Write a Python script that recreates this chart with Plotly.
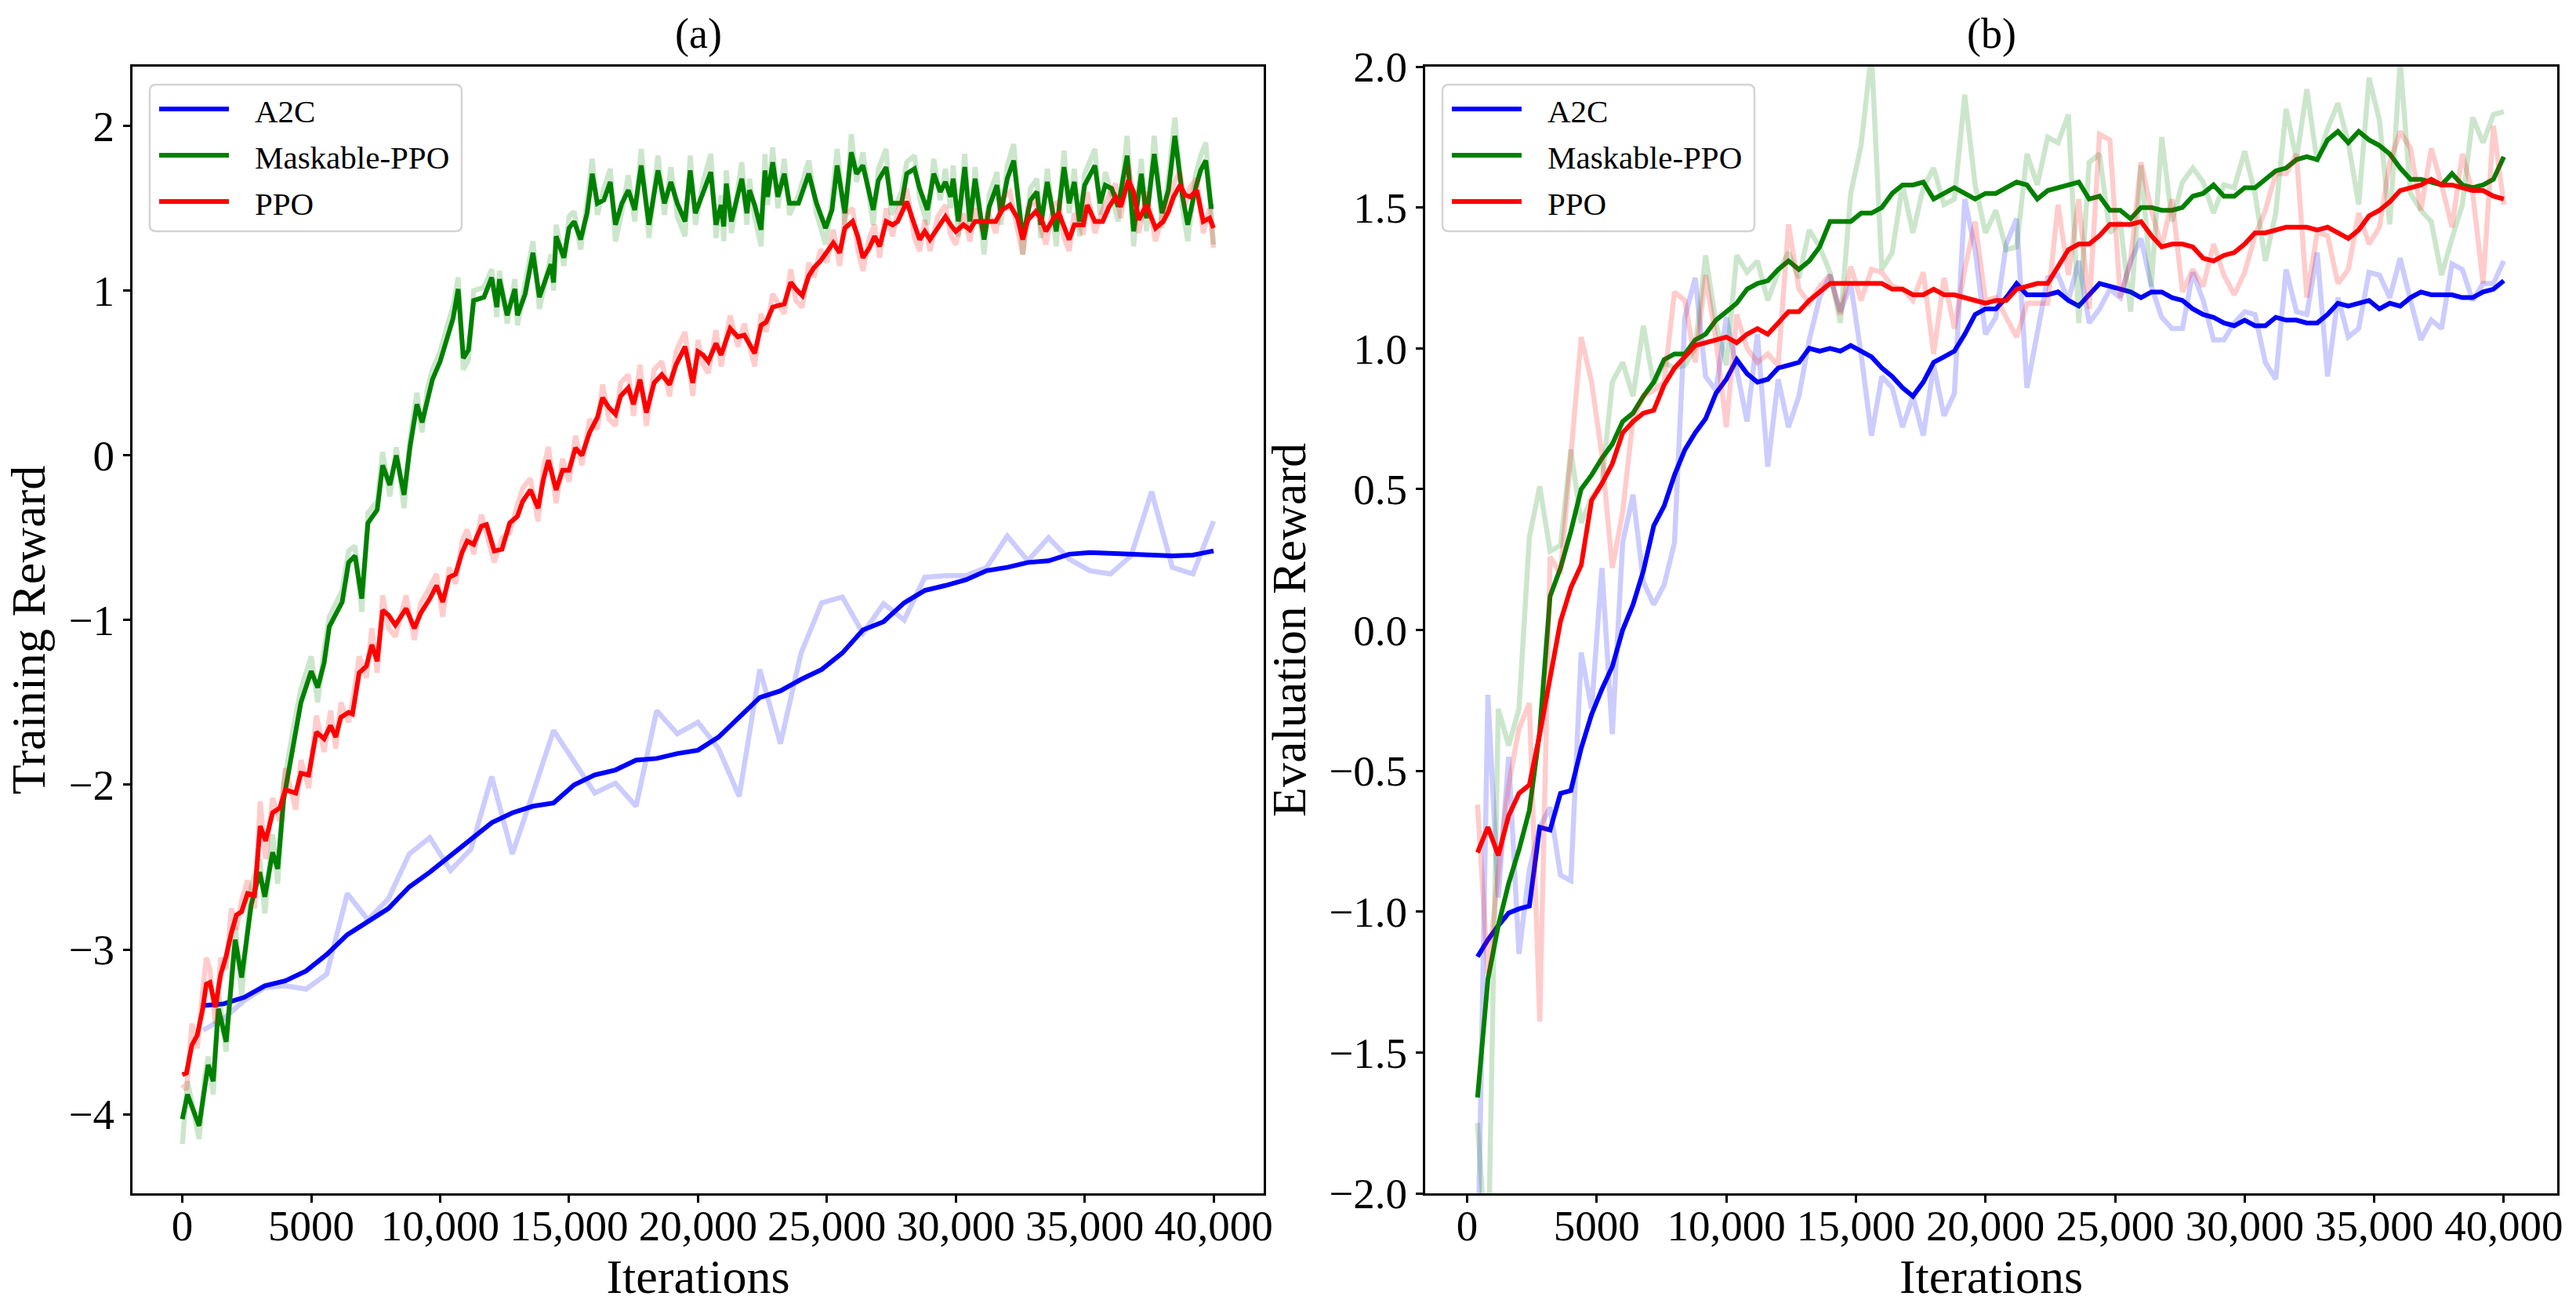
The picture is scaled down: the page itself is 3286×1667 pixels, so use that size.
import plotly.graph_objects as go

# ---------------- data: (a) training reward ----------------
# A2C logged every 800 iterations
a2c_train_x = list(range(800, 40001, 800))
a2c_train_raw = [-3.49, -3.42, -3.31, -3.23, -3.22, -3.24, -3.15, -2.66, -2.82, -2.69,
                 -2.42, -2.32, -2.52, -2.39, -1.95, -2.42, -2.05, -1.67, -1.86, -2.05,
                 -1.99, -2.13, -1.55, -1.69, -1.62, -1.78, -2.07, -1.30, -1.75, -1.20,
                 -0.895, -0.86, -1.08, -0.90, -1.00, -0.74, -0.73, -0.73, -0.68, -0.49,
                 -0.64, -0.50, -0.63, -0.70, -0.72, -0.61, -0.22, -0.68, -0.72, -0.40]
a2c_train_smooth = [-3.34, -3.33, -3.29, -3.22, -3.19, -3.13, -3.03, -2.91, -2.83, -2.75,
                    -2.62, -2.53, -2.43, -2.33, -2.23, -2.17, -2.13, -2.11, -2.00, -1.94,
                    -1.91, -1.85, -1.84, -1.81, -1.79, -1.71, -1.59, -1.47, -1.43, -1.36,
                    -1.30, -1.20, -1.06, -1.01, -0.895, -0.82, -0.79, -0.755, -0.70, -0.68,
                    -0.65, -0.64, -0.60, -0.59, -0.595, -0.60, -0.60, -0.61, -0.605, -0.58]

# Maskable-PPO (iterations in thousands)
mppo_train_k = [0.0, 0.2, 0.65, 0.86, 1.0, 1.2, 1.4, 1.7, 2.05, 2.3, 2.67, 3.0, 3.2, 3.5, 3.7,
                3.93, 4.35, 4.6, 5.0, 5.25, 5.5, 5.7, 6.2, 6.45, 6.7, 6.96, 7.2, 7.56, 7.77,
                8.05, 8.3, 8.6, 8.83, 9.1, 9.3, 9.5, 9.7, 10.0, 10.3, 10.5, 10.7, 10.9, 11.1,
                11.3, 11.7, 12.0, 12.2, 12.3, 12.6, 12.9, 13.0, 13.3, 13.6, 13.85, 14.3, 14.4,
                14.5, 14.8, 15.0, 15.2, 15.45, 15.7, 15.9, 16.1, 16.35, 16.6, 16.8, 17.05,
                17.3, 17.55, 17.8, 18.1, 18.45, 18.7, 18.95, 19.2, 19.5, 19.7, 19.9, 20.2,
                20.5, 20.7, 20.9, 21.0, 21.1, 21.3, 21.7, 21.9, 22.0, 22.2, 22.45, 22.6, 22.7,
                22.9, 23.1, 23.35, 23.55, 23.9, 24.3, 24.6, 24.95, 25.2, 25.4, 25.7, 25.95,
                26.15, 26.4, 26.8, 27.0, 27.3, 27.5, 27.9, 28.1, 28.4, 28.6, 28.9, 29.15,
                29.4, 29.6, 29.8, 29.9, 30.1, 30.35, 30.55, 30.75, 31.1, 31.3, 31.6, 31.75,
                32.0, 32.25, 32.6, 32.9, 33.15, 33.3, 33.55, 33.9, 34.2, 34.4, 34.6, 34.8,
                35.0, 35.4, 35.6, 35.8, 36.05, 36.3, 36.65, 36.9, 37.2, 37.4, 37.7, 38.0,
                38.25, 38.5, 38.8, 39.0, 39.3, 39.5, 39.7, 39.9, 40.0]
mppo_train_smooth = [-4.03, -3.88, -4.07, -3.84, -3.70, -3.80, -3.36, -3.56, -2.94, -3.17, -2.73,
                     -2.53, -2.68, -2.41, -2.51, -2.09, -1.72, -1.50, -1.31, -1.41, -1.26, -1.04,
                     -0.89, -0.65, -0.61, -0.87, -0.41, -0.33, -0.06, -0.18, 0.00, -0.24, 0.05,
                     0.31, 0.20, 0.33, 0.46, 0.57, 0.74, 0.83, 1.01, 0.59, 0.64, 0.94, 0.96, 1.08,
                     0.90, 1.07, 0.85, 1.01, 0.85, 0.98, 1.23, 0.96, 1.16, 1.05, 1.33, 1.20, 1.38,
                     1.42, 1.31, 1.47, 1.71, 1.53, 1.55, 1.66, 1.40, 1.53, 1.61, 1.49, 1.76, 1.40,
                     1.73, 1.53, 1.66, 1.53, 1.42, 1.73, 1.47, 1.59, 1.72, 1.40, 1.52, 1.39, 1.65,
                     1.42, 1.68, 1.47, 1.61, 1.52, 1.37, 1.73, 1.57, 1.78, 1.57, 1.71, 1.53, 1.53,
                     1.71, 1.53, 1.38, 1.49, 1.76, 1.47, 1.84, 1.71, 1.76, 1.49, 1.67, 1.75, 1.53,
                     1.53, 1.71, 1.74, 1.62, 1.49, 1.71, 1.60, 1.66, 1.57, 1.68, 1.42, 1.75, 1.42,
                     1.68, 1.31, 1.51, 1.64, 1.47, 1.68, 1.79, 1.32, 1.55, 1.60, 1.40, 1.66, 1.36,
                     1.75, 1.53, 1.66, 1.42, 1.64, 1.76, 1.53, 1.64, 1.62, 1.51, 1.82, 1.36, 1.71,
                     1.44, 1.83, 1.47, 1.61, 1.94, 1.57, 1.40, 1.62, 1.73, 1.79, 1.51, 1.51]
mppo_train_raw = [-4.18, -3.80, -4.15, -3.78, -3.65, -3.88, -3.25, -3.62, -2.85, -3.28, -2.62,
                  -2.45, -2.78, -2.30, -2.60, -2.00, -1.62, -1.42, -1.22, -1.50, -1.18, -0.98,
                  -0.82, -0.58, -0.55, -0.95, -0.35, -0.28, 0.02, -0.25, 0.05, -0.32, 0.10,
                  0.38, 0.14, 0.40, 0.52, 0.63, 0.80, 0.90, 1.08, 0.52, 0.58, 1.00, 1.02, 1.13,
                  0.84, 1.12, 0.80, 1.07, 0.79, 1.04, 1.30, 0.89, 1.22, 1.00, 1.40, 1.15, 1.45,
                  1.48, 1.25, 1.54, 1.80, 1.46, 1.62, 1.74, 1.30, 1.48, 1.70, 1.42, 1.86, 1.32,
                  1.82, 1.46, 1.75, 1.45, 1.33, 1.82, 1.40, 1.66, 1.83, 1.32, 1.58, 1.30, 1.73,
                  1.35, 1.78, 1.40, 1.68, 1.45, 1.27, 1.83, 1.52, 1.87, 1.50, 1.80, 1.46, 1.58,
                  1.79, 1.47, 1.28, 1.55, 1.86, 1.40, 1.95, 1.66, 1.84, 1.40, 1.74, 1.86, 1.46,
                  1.60, 1.78, 1.82, 1.56, 1.40, 1.80, 1.55, 1.74, 1.50, 1.76, 1.33, 1.83, 1.35,
                  1.75, 1.22, 1.58, 1.72, 1.40, 1.76, 1.89, 1.22, 1.62, 1.68, 1.32, 1.74, 1.27,
                  1.85, 1.47, 1.74, 1.33, 1.71, 1.86, 1.46, 1.72, 1.58, 1.42, 1.94, 1.27, 1.80,
                  1.36, 1.94, 1.38, 1.68, 2.05, 1.50, 1.30, 1.70, 1.82, 1.90, 1.45, 1.28]

# PPO
ppo_train_k = [0.0, 0.16, 0.37, 0.58, 0.79, 0.93, 1.07, 1.28, 1.49, 1.7, 1.9, 2.1, 2.3, 2.53,
               2.8, 3.02, 3.23, 3.5, 3.78, 4.0, 4.4, 4.6, 4.9, 5.2, 5.5, 5.75, 5.95, 6.15, 6.45,
               6.6, 6.86, 7.14, 7.35, 7.56, 7.77, 8.0, 8.26, 8.68, 9.0, 9.24, 9.6, 9.86, 10.1,
               10.35, 10.6, 10.85, 11.05, 11.3, 11.6, 11.8, 12.1, 12.4, 12.7, 13.0, 13.2, 13.5,
               13.8, 14.0, 14.2, 14.5, 14.75, 15.0, 15.25, 15.5, 15.8, 16.1, 16.3, 16.55, 16.8,
               17.0, 17.3, 17.5, 17.75, 18.0, 18.3, 18.6, 18.9, 19.15, 19.5, 19.8, 20.0, 20.2,
               20.4, 20.7, 20.9, 21.25, 21.55, 21.8, 22.2, 22.45, 22.65, 22.9, 23.35, 23.6,
               23.8, 24.05, 24.3, 24.5, 24.75, 25.0, 25.25, 25.5, 25.7, 26.0, 26.2, 26.4, 26.65,
               26.85, 27.05, 27.3, 27.55, 27.75, 28.1, 28.4, 28.6, 28.8, 29.0, 29.3, 29.6, 29.8,
               30.0, 30.3, 30.55, 30.75, 31.05, 31.25, 31.55, 31.8, 32.1, 32.4, 32.6, 32.8,
               33.1, 33.3, 33.5, 33.8, 34.0, 34.2, 34.4, 34.6, 34.95, 35.1, 35.4, 35.7, 35.95,
               36.2, 36.4, 36.7, 36.9, 37.1, 37.4, 37.75, 38.05, 38.25, 38.45, 38.7, 38.9, 39.1,
               39.35, 39.6, 39.85, 40.0]
ppo_train_smooth = [-3.76, -3.75, -3.58, -3.52, -3.36, -3.21, -3.20, -3.35, -3.15, -3.04, -2.90,
                    -2.79, -2.77, -2.66, -2.67, -2.25, -2.34, -2.17, -2.14, -2.03, -2.05, -1.93,
                    -1.94, -1.68, -1.72, -1.64, -1.71, -1.59, -1.56, -1.57, -1.32, -1.28, -1.15,
                    -1.25, -0.94, -0.97, -1.03, -0.93, -1.05, -0.96, -0.87, -0.79, -0.89, -0.74,
                    -0.72, -0.59, -0.52, -0.54, -0.43, -0.42, -0.58, -0.57, -0.41, -0.37, -0.28,
                    -0.21, -0.32, -0.15, -0.03, -0.21, -0.09, -0.09, 0.045, 0.00, 0.14, 0.23, 0.35,
                    0.29, 0.25, 0.36, 0.41, 0.31, 0.46, 0.26, 0.44, 0.49, 0.43, 0.55, 0.66, 0.44,
                    0.63, 0.61, 0.57, 0.68, 0.61, 0.77, 0.72, 0.73, 0.62, 0.79, 0.81, 0.90, 0.92,
                    1.05, 1.01, 0.97, 1.09, 1.14, 1.18, 1.24, 1.29, 1.23, 1.38, 1.42, 1.33, 1.20,
                    1.26, 1.33, 1.27, 1.42, 1.40, 1.42, 1.54, 1.40, 1.31, 1.36, 1.31, 1.38, 1.45,
                    1.40, 1.36, 1.40, 1.37, 1.42, 1.42, 1.42, 1.42, 1.49, 1.52, 1.44, 1.31, 1.43,
                    1.48, 1.44, 1.36, 1.44, 1.47, 1.39, 1.31, 1.40, 1.40, 1.52, 1.42, 1.42, 1.51,
                    1.57, 1.51, 1.67, 1.60, 1.43, 1.52, 1.38, 1.42, 1.48, 1.57, 1.64, 1.58, 1.57,
                    1.61, 1.42, 1.44, 1.38]
ppo_train_raw = [-3.82, -3.85, -3.45, -3.60, -3.25, -3.05, -3.12, -3.45, -3.05, -3.12, -2.75,
                 -2.88, -2.70, -2.58, -2.75, -2.10, -2.45, -2.08, -2.22, -1.90, -2.15, -1.85,
                 -2.02, -1.58, -1.80, -1.55, -1.78, -1.50, -1.62, -1.50, -1.22, -1.35, -1.05,
                 -1.32, -0.85, -1.05, -1.10, -0.85, -1.12, -0.90, -0.80, -0.72, -0.98, -0.68,
                 -0.78, -0.52, -0.45, -0.60, -0.36, -0.48, -0.65, -0.50, -0.47, -0.30, -0.20,
                 -0.14, -0.40, -0.08, 0.05, -0.29, -0.02, -0.16, 0.12, -0.06, 0.22, 0.16, 0.43,
                 0.22, 0.18, 0.44, 0.49, 0.24, 0.55, 0.18, 0.52, 0.57, 0.36, 0.63, 0.75, 0.36,
                 0.70, 0.55, 0.50, 0.76, 0.54, 0.85, 0.66, 0.80, 0.54, 0.86, 0.75, 0.98, 0.86,
                 1.13, 0.94, 0.90, 1.17, 1.08, 1.25, 1.17, 1.37, 1.15, 1.46, 1.50, 1.25, 1.12,
                 1.32, 1.40, 1.20, 1.50, 1.33, 1.48, 1.62, 1.32, 1.24, 1.43, 1.24, 1.45, 1.52,
                 1.34, 1.28, 1.47, 1.30, 1.50, 1.36, 1.48, 1.35, 1.56, 1.60, 1.37, 1.22, 1.50,
                 1.55, 1.38, 1.28, 1.52, 1.54, 1.32, 1.24, 1.47, 1.34, 1.60, 1.35, 1.49, 1.58,
                 1.65, 1.44, 1.76, 1.54, 1.35, 1.60, 1.30, 1.48, 1.55, 1.65, 1.72, 1.52, 1.63,
                 1.68, 1.35, 1.50, 1.26]

# ---------------- data: (b) evaluation reward ----------------
eval_x = list(range(400, 40001, 400))
a2c_eval_smooth = [-1.16, -1.10, -1.05, -1.005, -0.99, -0.98, -0.70, -0.71, -0.58, -0.57,
                   -0.42, -0.30, -0.21, -0.13, 0.00, 0.09, 0.21, 0.37, 0.44, 0.55,
                   0.64, 0.70, 0.75, 0.84, 0.89, 0.96, 0.91, 0.88, 0.89, 0.93,
                   0.94, 0.95, 1.00, 0.99, 1.00, 0.99, 1.01, 0.99, 0.97, 0.93,
                   0.90, 0.86, 0.83, 0.88, 0.95, 0.97, 0.99, 1.05, 1.12, 1.14,
                   1.14, 1.18, 1.23, 1.19, 1.19, 1.19, 1.20, 1.17, 1.15, 1.19,
                   1.23, 1.22, 1.21, 1.20, 1.18, 1.20, 1.20, 1.18, 1.17, 1.14,
                   1.12, 1.11, 1.09, 1.08, 1.10, 1.08, 1.08, 1.11, 1.10, 1.10,
                   1.09, 1.09, 1.12, 1.16, 1.15, 1.16, 1.17, 1.14, 1.16, 1.15,
                   1.18, 1.20, 1.19, 1.19, 1.19, 1.18, 1.18, 1.20, 1.21, 1.24]
a2c_eval_raw = [-2.3, -0.23, -0.95, -0.45, -1.15, -0.85, -0.70, -0.63, -0.87, -0.89,
                -0.08, -0.28, 0.22, -0.37, 0.31, 0.48, 0.17, 0.09, 0.16, 0.31,
                1.11, 1.25, 0.90, 0.85, 1.11, 0.93, 0.74, 1.05, 0.58, 0.89,
                0.72, 0.83, 1.03, 1.18, 1.26, 1.13, 1.23, 0.98, 0.69, 0.90,
                0.86, 0.72, 0.83, 0.69, 0.94, 0.76, 0.84, 1.53, 1.35, 1.05,
                1.11, 1.37, 1.46, 0.86, 1.05, 1.25, 1.26, 1.17, 1.31, 1.09,
                1.14, 1.21, 1.18, 1.31, 1.39, 1.22, 1.11, 1.07, 1.07, 1.27,
                1.17, 1.03, 1.03, 1.09, 1.13, 1.12, 0.95, 0.89, 1.28, 1.13,
                1.12, 1.34, 0.90, 1.18, 1.04, 1.07, 1.27, 1.26, 1.18, 1.32,
                1.17, 1.03, 1.10, 1.07, 1.30, 1.28, 1.17, 1.23, 1.23, 1.31]
mppo_eval_smooth = [-1.66, -1.24, -1.05, -0.90, -0.78, -0.64, -0.36, 0.12, 0.22, 0.35,
                    0.50, 0.55, 0.61, 0.66, 0.74, 0.77, 0.83, 0.88, 0.96, 0.98,
                    0.98, 1.03, 1.05, 1.10, 1.13, 1.16, 1.21, 1.23, 1.24, 1.28,
                    1.31, 1.28, 1.31, 1.36, 1.45, 1.45, 1.45, 1.48, 1.48, 1.50,
                    1.55, 1.58, 1.58, 1.59, 1.53, 1.55, 1.57, 1.55, 1.53, 1.55,
                    1.55, 1.57, 1.59, 1.58, 1.53, 1.56, 1.57, 1.58, 1.59, 1.53,
                    1.54, 1.49, 1.49, 1.46, 1.50, 1.50, 1.49, 1.49, 1.50, 1.54,
                    1.55, 1.58, 1.54, 1.54, 1.57, 1.57, 1.60, 1.63, 1.64, 1.67,
                    1.68, 1.67, 1.74, 1.77, 1.73, 1.77, 1.74, 1.72, 1.69, 1.64,
                    1.60, 1.60, 1.59, 1.58, 1.62, 1.58, 1.57, 1.58, 1.60, 1.68]
mppo_eval_raw = [-1.75, -2.3, -0.28, -0.41, -0.28, 0.33, 0.51, 0.28, 0.30, 0.64,
                 0.38, 0.47, 0.52, 0.88, 0.95, 0.83, 1.08, 0.87, 0.95, 0.93,
                 0.94, 1.00, 1.33, 1.09, 0.94, 1.33, 1.27, 1.31, 1.17, 1.27,
                 1.34, 1.25, 1.42, 1.36, 1.27, 1.09, 1.55, 1.72, 2.05, 1.28,
                 1.34, 1.58, 1.41, 1.57, 1.64, 1.51, 1.53, 1.90, 1.58, 1.41,
                 1.49, 1.35, 1.36, 1.69, 1.58, 1.75, 1.73, 1.83, 1.09, 1.66,
                 1.69, 1.41, 1.45, 1.13, 1.65, 1.22, 1.75, 1.45, 1.59, 1.64,
                 1.59, 1.48, 1.58, 1.57, 1.70, 1.55, 1.31, 1.48, 1.85, 1.67,
                 1.92, 1.66, 1.78, 1.87, 1.73, 1.51, 1.96, 1.81, 1.44, 2.02,
                 1.55, 1.49, 1.45, 1.26, 1.39, 1.51, 1.82, 1.73, 1.83, 1.84]
ppo_eval_smooth = [-0.79, -0.70, -0.80, -0.66, -0.58, -0.55, -0.37, -0.17, 0.03, 0.15,
                   0.23, 0.46, 0.52, 0.59, 0.70, 0.74, 0.77, 0.78, 0.87, 0.93,
                   0.97, 1.01, 1.02, 1.03, 1.04, 1.02, 1.05, 1.07, 1.05, 1.09,
                   1.13, 1.13, 1.17, 1.20, 1.23, 1.23, 1.23, 1.23, 1.23, 1.23,
                   1.21, 1.21, 1.19, 1.19, 1.21, 1.19, 1.19, 1.18, 1.17, 1.16,
                   1.17, 1.17, 1.21, 1.22, 1.23, 1.23, 1.29, 1.35, 1.37, 1.37,
                   1.40, 1.44, 1.44, 1.44, 1.45, 1.40, 1.36, 1.37, 1.37, 1.36,
                   1.32, 1.31, 1.33, 1.34, 1.37, 1.41, 1.41, 1.42, 1.43, 1.43,
                   1.43, 1.42, 1.43, 1.41, 1.39, 1.42, 1.47, 1.49, 1.52, 1.56,
                   1.57, 1.58, 1.60, 1.58, 1.58, 1.57, 1.56, 1.56, 1.54, 1.53]
ppo_eval_raw = [-0.62, -1.22, -0.86, -0.55, -0.35, -0.26, -1.39, 0.26, 0.20, 0.62,
                1.04, 0.88, 0.62, 0.22, 0.42, 0.75, 0.83, 0.85, 0.88, 1.20,
                1.17, 0.95, 1.26, 1.03, 0.72, 1.12, 1.00, 0.95, 0.98, 0.94,
                1.44, 1.21, 1.16, 1.22, 1.26, 1.12, 1.29, 1.17, 1.28, 1.27,
                1.22, 1.21, 1.17, 1.27, 0.98, 1.25, 1.07, 1.28, 1.45, 1.17,
                1.18, 1.11, 1.04, 1.16, 1.16, 1.16, 1.51, 1.26, 1.53, 1.14,
                1.76, 1.74, 1.18, 1.31, 1.66, 1.49, 1.36, 1.53, 1.20, 1.28,
                1.22, 1.37, 1.26, 1.19, 1.27, 1.40, 1.49, 1.62, 1.62, 1.69,
                1.18, 1.41, 1.40, 1.23, 1.28, 1.48, 1.37, 1.43, 1.66, 1.77,
                1.71, 1.49, 1.71, 1.58, 1.43, 1.69, 1.55, 1.23, 1.79, 1.51]

x_ticks = [0, 5000, 10000, 15000, 20000, 25000, 30000, 35000, 40000]
x_tick_labels = ['0', '5000', '10,000', '15,000', '20,000', '25,000', '30,000', '35,000', '40,000']
train_ticks = [-4, -3, -2, -1, 0, 1, 2]
train_tick_labels = ['\u22124', '\u22123', '\u22122', '\u22121', '0', '1', '2']
eval_ticks = [-2.0, -1.5, -1.0, -0.5, 0.0, 0.5, 1.0, 1.5, 2.0]
eval_tick_labels = ['\u22122.0', '\u22121.5', '\u22121.0', '\u22120.5', '0.0', '0.5', '1.0', '1.5', '2.0']
algos = ['A2C', 'Maskable-PPO', 'PPO']

FONT = 'Liberation Serif, Times New Roman, serif'
colors = {'A2C': (0, 0, 255), 'Maskable-PPO': (0, 128, 0), 'PPO': (255, 0, 0)}
W, H = 3286, 1667


def add_series(fig, name, x, raw, smooth, xa, ya):
    r, g, b = colors[name]
    fig.add_trace(go.Scatter(x=x, y=raw, mode='lines',
                             line=dict(color='rgba(%d,%d,%d,0.2)' % (r, g, b), width=6.5),
                             xaxis=xa, yaxis=ya, showlegend=False, hoverinfo='skip'))
    fig.add_trace(go.Scatter(x=x, y=smooth, mode='lines', name=name,
                             line=dict(color='rgb(%d,%d,%d)' % (r, g, b), width=6),
                             xaxis=xa, yaxis=ya, showlegend=False))


def px(x):
    return x / W


def py(y):
    return 1 - y / H


def legend_box(left, top):
    # matplotlib-style legend drawn in paper coordinates (pixels -> paper)
    shapes, notes = [], []
    x0, x1, y0, y1, rad = left, left + 398, top, top + 187, 8
    path = ('M {a},{b} L {c},{b} Q {d},{b} {d},{e} L {d},{f} Q {d},{g} {c},{g} '
            'L {a},{g} Q {h},{g} {h},{f} L {h},{e} Q {h},{b} {a},{b} Z').format(
        a=px(x0 + rad), b=py(y0), c=px(x1 - rad), d=px(x1), e=py(y0 + rad),
        f=py(y1 - rad), g=py(y1), h=px(x0))
    shapes.append(dict(type='path', path=path, xref='paper', yref='paper',
                       fillcolor='rgba(255,255,255,0.8)', line=dict(color='#d4d4d4', width=2.5)))
    for k, name in enumerate(algos):
        yc = top + 31 + 59 * k
        r, g, b = colors[name]
        shapes.append(dict(type='line', xref='paper', yref='paper',
                           x0=px(left + 12), x1=px(left + 101), y0=py(yc), y1=py(yc),
                           line=dict(color='rgb(%d,%d,%d)' % (r, g, b), width=6)))
        notes.append(dict(text=name, x=px(left + 132), y=py(yc + 3), xref='paper', yref='paper',
                          xanchor='left', yanchor='middle', showarrow=False,
                          font=dict(family=FONT, size=41, color='black')))
    return shapes, notes


fig = go.Figure()

mppo_x = [k * 1000 for k in mppo_train_k]
ppo_x = [k * 1000 for k in ppo_train_k]
add_series(fig, 'A2C', a2c_train_x, a2c_train_raw, a2c_train_smooth, 'x', 'y')
add_series(fig, 'Maskable-PPO', mppo_x, mppo_train_raw, mppo_train_smooth, 'x', 'y')
add_series(fig, 'PPO', ppo_x, ppo_train_raw, ppo_train_smooth, 'x', 'y')

add_series(fig, 'A2C', eval_x, a2c_eval_raw, a2c_eval_smooth, 'x2', 'y2')
add_series(fig, 'Maskable-PPO', eval_x, mppo_eval_raw, mppo_eval_smooth, 'x2', 'y2')
add_series(fig, 'PPO', eval_x, ppo_eval_raw, ppo_eval_smooth, 'x2', 'y2')

axis_common = dict(showgrid=False, zeroline=False, showline=True, linecolor='black',
                   linewidth=3, mirror=True, ticks='outside', ticklen=9, tickwidth=2.5,
                   tickcolor='black', tickfont=dict(family=FONT, size=55, color='black'),
                   automargin=False)
xaxis_common = dict(axis_common, ticklabelstandoff=-18)

shapes_a, notes_a = legend_box(191, 108)
shapes_b, notes_b = legend_box(1840, 108)

titles = [
    dict(text='(a)', x=px((169 + 1612) / 2), y=py(43), xref='paper', yref='paper',
         xanchor='center', yanchor='middle', showarrow=False,
         font=dict(family=FONT, size=54, color='black')),
    dict(text='(b)', x=px((1818 + 3262) / 2), y=py(43), xref='paper', yref='paper',
         xanchor='center', yanchor='middle', showarrow=False,
         font=dict(family=FONT, size=54, color='black')),
]

fig.update_layout(
    width=W, height=H, autosize=False,
    margin=dict(l=0, r=0, t=0, b=0),
    paper_bgcolor='white', plot_bgcolor='white',
    font=dict(family=FONT, color='black'),
    showlegend=False,
    xaxis=dict(domain=[px(169), px(1612)], range=[-1934, 41946], tickvals=x_ticks,
               ticktext=x_tick_labels, anchor='y',
               title=dict(text='Iterations', font=dict(family=FONT, size=62), standoff=10),
               **xaxis_common),
    yaxis=dict(domain=[py(1522), py(85)], range=[-4.48, 2.36], tickvals=train_ticks,
               ticktext=train_tick_labels, anchor='x',
               title=dict(text='Training Reward', font=dict(family=FONT, size=62), standoff=10),
               **axis_common),
    xaxis2=dict(domain=[px(1818), px(3262)], range=[-1620, 42060], tickvals=x_ticks,
                ticktext=x_tick_labels, anchor='y2',
                title=dict(text='Iterations', font=dict(family=FONT, size=62), standoff=10),
                **xaxis_common),
    yaxis2=dict(domain=[py(1522), py(85)], range=[-2.0, 2.0], tickvals=eval_ticks,
                ticktext=eval_tick_labels, anchor='x2',
                title=dict(text='Evaluation Reward', font=dict(family=FONT, size=62), standoff=10),
                **axis_common),
    shapes=shapes_a + shapes_b,
    annotations=titles + notes_a + notes_b,
)

# the page body has a default 8px margin; remove it so the figure fills the window exactly
fig.write_html('out.html', config={'displayModeBar': False},
               post_script="document.body.style.margin='0px';")
